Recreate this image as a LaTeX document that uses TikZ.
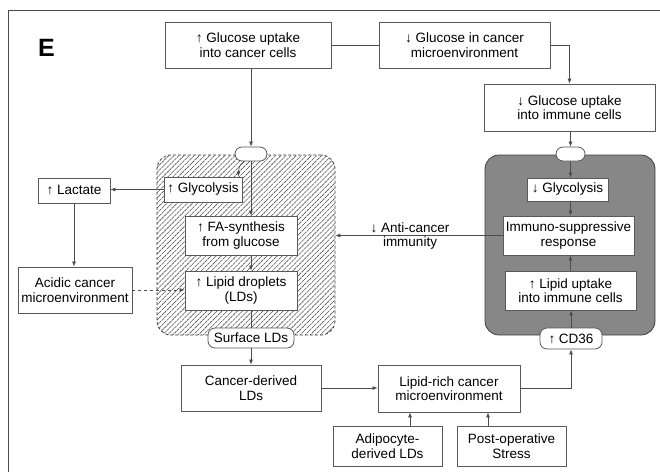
\documentclass[tikz,border=0pt]{standalone}
\usepackage{fontspec}
\setmainfont{Liberation Sans}
\usetikzlibrary{arrows.meta,patterns.meta}
\begin{document}
\begin{tikzpicture}[x=1pt,y=-1pt,
  every node/.style={font=\fontsize{13.5}{14.5}\selectfont, align=center, inner sep=0pt},
  box/.style={draw=black!65, fill=white, line width=0.8pt, rectangle},
  caps/.style={draw=black!65, fill=white, line width=0.8pt, rectangle, rounded corners=7pt},
  cancercell/.style={draw=black!75, densely dashed, line width=0.8pt, rectangle, rounded corners=14pt,
     pattern={Lines[angle=45,distance=3.6pt,line width=0.6pt]}, pattern color=black!68},
  immunecell/.style={draw=black!75, fill=black!47, line width=0.8pt, rectangle, rounded corners=14pt},
  conn/.style={draw=black!70, line width=0.7pt, -{Latex[length=5pt,width=4pt]}},
  plainline/.style={draw=black!70, line width=0.7pt}]
\useasboundingbox (0,0) rectangle (660,472);
\draw[black!70, line width=1pt] (8,472) -- (8,10) -- (660,10);
\node[font=\fontsize{25}{25}\selectfont\bfseries] (E) at (46.5,48) {E};

% cells
\node[cancercell, minimum width=178pt, minimum height=180pt] (cell) at (246,245) {};
\node[immunecell, minimum width=170pt, minimum height=180pt] (icell) at (570,245) {};

% top boxes
\node[box, minimum width=166pt, minimum height=46pt] (gc) at (248,45) {↑ Glucose uptake\\into cancer cells};
\node[box, minimum width=171pt, minimum height=46pt] (gin) at (464.5,45) {↓ Glucose in cancer\\microenvironment};
\node[box, minimum width=171pt, minimum height=47pt] (gui) at (569.5,107.5) {↓ Glucose uptake\\into immune cells};

% immune cell content
\node[caps, minimum width=29pt, minimum height=14pt] (capI) at (570.5,154) {};
\node[box, minimum width=81pt, minimum height=23pt] (glyI) at (567.5,189.5) {↓ Glycolysis};
\node[box, minimum width=131pt, minimum height=39pt] (imm) at (568.5,235.5) {Immuno-suppressive\\response};
\node[box, minimum width=131pt, minimum height=39pt] (lup) at (570.5,290.5) {↑ Lipid uptake\\into immune cells};
\node[caps, minimum width=62pt, minimum height=21pt] (cd36) at (571,338.5) {↑ CD36};

% cancer cell content
\node[caps, minimum width=32pt, minimum height=14pt] (capC) at (251,154) {};
\node[box, minimum width=78pt, minimum height=25pt] (glyC) at (203,189.5) {↑ Glycolysis};
\node[box, minimum width=112pt, minimum height=39pt] (fa) at (241,235.5) {↑ FA-synthesis\\from glucose};
\node[box, minimum width=112pt, minimum height=39pt] (ld) at (241,290.5) {↑ Lipid droplets\\(LDs)};
\node[caps, minimum width=86pt, minimum height=20pt] (surf) at (251,338) {Surface LDs};

% left
\node[box, minimum width=72pt, minimum height=25pt] (lac) at (74,190.5) {↑ Lactate};
\node[box, minimum width=114pt, minimum height=46pt] (aci) at (75,290) {Acidic cancer\\microenvironment};

% bottom
\node[box, minimum width=140pt, minimum height=46pt] (cdl) at (251,388) {Cancer-derived\\LDs};
\node[box, minimum width=142pt, minimum height=47pt] (lrc) at (449,388.5) {Lipid-rich cancer\\microenvironment};
\node[box, minimum width=109pt, minimum height=40pt] (adi) at (387.5,446) {Adipocyte-\\derived LDs};
\node[box, minimum width=109pt, minimum height=40pt] (pos) at (511.5,446) {Post-operative\\Stress};

\node (anti) at (410,236) {↓ Anti-cancer\\immunity};

% connectors
\draw[plainline] (gc.east) -- (gin.west);
\draw[conn] (capC.north |- gc.south) -- (capC.north);
\draw[conn] (gin.east) -| (gui.north);
\draw[conn] (capI.north |- gui.south) -- (capI.north);
\draw[conn] (capI.south) -- (capI.south |- glyI.north);
\draw[conn] (capI.south |- glyI.south) -- (capI.south |- imm.north);
\draw[conn] (lup.north) -- (lup.north |- imm.south);
\draw[conn] (cd36.north) -- (cd36.north |- lup.south);
\draw[conn] (lrc.east) -| (cd36.south);
\draw[conn] (imm.west) -- (imm.west -| cell.east);

\draw[conn] ([xshift=-7pt]capC.south) .. controls ([xshift=-12pt,yshift=-4pt]capC.south) and ([xshift=-4pt,yshift=8pt]glyC.north east) .. ([xshift=-4pt]glyC.north east);
\draw[conn] (capC.south) -- (capC.south |- fa.north);
\draw[conn] (capC.south |- fa.south) -- (capC.south |- ld.north);
\draw[plainline] (surf.north |- ld.south) -- (surf.north);
\draw[conn] (surf.south) -- (surf.south |- cdl.north);

\draw[conn] (glyC.west) -- (glyC.west -| lac.east);
\draw[conn] (lac.south) -- (lac.south |- aci.north);
\draw[conn, dashed] (aci.east) -- (aci.east -| ld.west);

\draw[conn] (cdl.east) -- (cdl.east -| lrc.west);
\draw[conn] ([xshift=22.5pt]adi.north) -- ([xshift=22.5pt]adi.north |- lrc.south);
\draw[conn] ([xshift=-23.5pt]pos.north) -- ([xshift=-23.5pt]pos.north |- lrc.south);
\end{tikzpicture}
\end{document}
